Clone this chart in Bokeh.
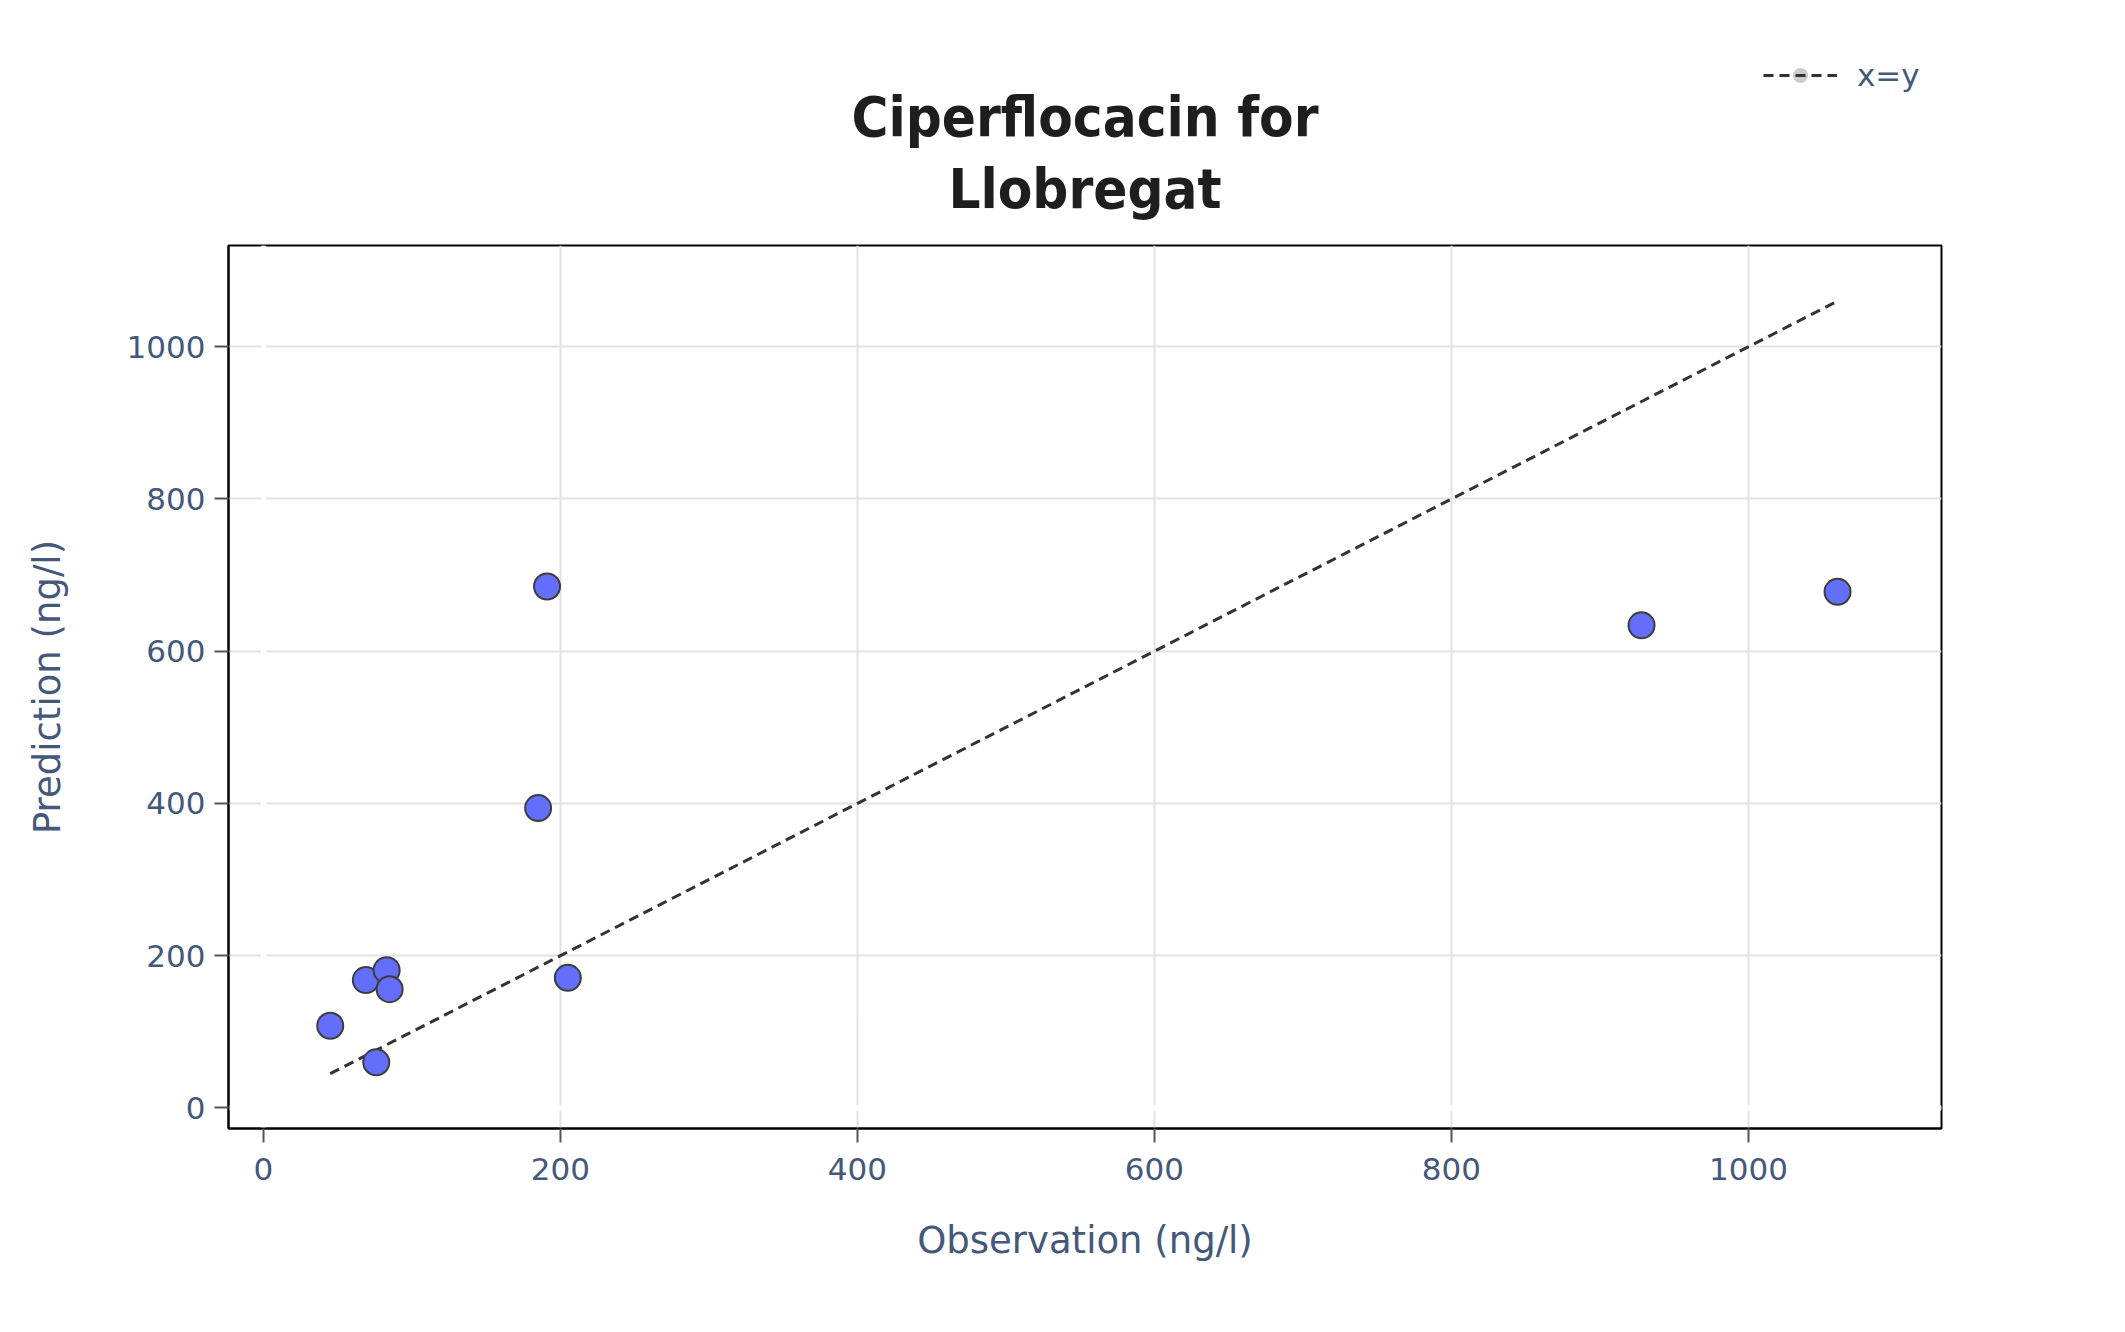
from bokeh.plotting import figure
from bokeh.layouts import column
from bokeh.models import Range1d, Span, Legend, LegendItem
from bokeh.core.properties import value
from bokeh.embed import file_html
from bokeh.resources import INLINE

# ---- data ----
observation = [45, 69, 83, 85, 76, 191, 185, 205, 928, 1060]
prediction = [108, 168, 181, 156, 60, 685, 394, 171, 634, 678]
x_ticks = [0, 200, 400, 600, 800, 1000]
y_ticks = [0, 200, 400, 600, 800, 1000]
title_lines = ["Ciperflocacin for", "Llobregat"]
x_label = "Observation (ng/l)"
y_label = "Prediction (ng/l)"
ref_label = "x=y"

ref_x = [min(observation), max(observation)]
ref_y = list(ref_x)

TICK_COLOR = "#44587a"
TITLE_FONT = "DejaVu Sans Condensed"
W = 2109
HEAD_H = 243
LEFT, RIGHT = 228, 168

x_range = Range1d(-23.5, 1130)

# ---------------- header strip: title + legend ----------------
head = figure(
    width=W, height=HEAD_H, output_backend="svg", toolbar_location=None,
    x_range=x_range, y_range=Range1d(0, HEAD_H),
    x_axis_location=None, y_axis_location=None,
    min_border_left=LEFT, min_border_right=RIGHT,
    min_border_top=0, min_border_bottom=0, title=None,
)
head.grid.visible = False
head.outline_line_color = None
head.background_fill_color = "white"
head.border_fill_color = "white"

cx = (x_range.start + x_range.end) / 2
head.text(x=[cx, cx], y=[127, 55], text=title_lines,
          text_align="center", text_baseline="alphabetic",
          text_font=value(TITLE_FONT), text_font_size="56px",
          text_font_style="bold", text_color="#1e1e1e")

# legend proxies (not drawn in the header, only in its legend)
h_dot = head.scatter(ref_x, ref_y, size=0, fill_color="#cccccc",
                     line_color="#cccccc", line_width=0, visible=False)
h_line = head.line(ref_x, ref_y, line_color="#333333", line_width=3,
                   line_dash="10 6", visible=False)
legend = Legend(
    items=[LegendItem(label=ref_label, renderers=[h_dot, h_line])],
    location=(1535, 149), click_policy="none",
    border_line_color=None, background_fill_alpha=0,
    glyph_width=74, glyph_height=38, label_standoff=20,
    padding=0, margin=0, spacing=0,
    label_text_font="DejaVu Sans", label_text_font_size="31px",
    label_text_color=TICK_COLOR,
)
head.add_layout(legend)

# ---------------- main scatter plot ----------------
p = figure(
    width=W, height=1316 - HEAD_H,
    output_backend="svg", toolbar_location=None,
    x_range=x_range, y_range=Range1d(-27, 1133),
    min_border_left=LEFT, min_border_right=RIGHT,
    min_border_top=2, min_border_bottom=188,
    title=None,
)
p.background_fill_color = "white"
p.border_fill_color = "white"
p.outline_line_color = "black"
p.outline_line_width = 2

for g, t in ((p.xgrid, x_ticks), (p.ygrid, y_ticks)):
    g.ticker = t
    g.grid_line_color = "#e2e2e2"
    g.grid_line_width = 2

for ax, t in ((p.xaxis, x_ticks), (p.yaxis, y_ticks)):
    ax.ticker = t
    ax.axis_line_color = "black"
    ax.axis_line_width = 2
    ax.major_tick_in = 0
    ax.major_tick_out = 14
    ax.major_tick_line_color = "#555555"
    ax.major_tick_line_width = 2
    ax.minor_tick_line_color = None
    ax.major_label_text_font = "DejaVu Sans"
    ax.major_label_text_font_size = "31px"
    ax.major_label_text_color = TICK_COLOR
    ax.axis_label_text_font = "DejaVu Sans"
    ax.axis_label_text_font_size = "37px"
    ax.axis_label_text_font_style = "normal"
    ax.axis_label_text_color = TICK_COLOR

p.xaxis.axis_label = x_label
p.yaxis.axis_label = y_label
p.xaxis.major_label_standoff = 15
p.yaxis.major_label_standoff = 9
p.xaxis.axis_label_standoff = 36
p.yaxis.axis_label_standoff = 55

# white zero lines (cover the gridlines at 0)
p.add_layout(Span(location=0, dimension="height", line_color="white", line_width=5, level="underlay"))
p.add_layout(Span(location=0, dimension="width", line_color="white", line_width=5, level="underlay"))

p.line(ref_x, ref_y, line_color="#333333", line_width=3, line_dash="10 6")
p.scatter(observation, prediction, size=26, fill_color="#636efa",
          line_color="#3d3d3d", line_width=2)

layout = column(head, p, spacing=0)
open("out.html", "w").write(file_html(layout, INLINE))
